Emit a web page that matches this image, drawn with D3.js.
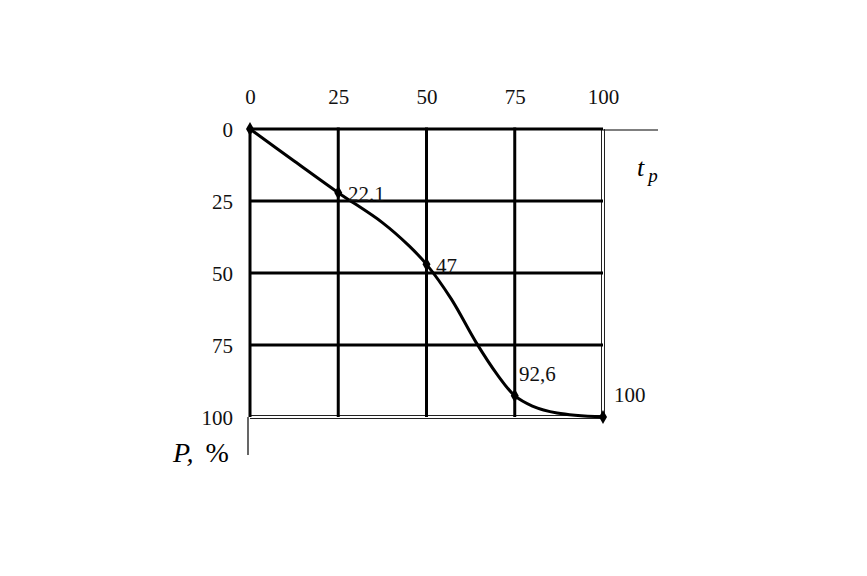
<!DOCTYPE html>
<html><head><meta charset="utf-8">
<script src="https://cdn.jsdelivr.net/npm/d3@7"></script>
<style>body{margin:0;background:#fff}svg{font-family:"Liberation Serif",serif}</style>
</head><body>
<svg id="c" width="867" height="576"></svg>
<script>
const xTicks = [0, 25, 50, 75, 100];
const yTicks = [0, 25, 50, 75, 100];
const markT = [0, 25, 50, 75, 100];
const markP = [0, 22.1, 47, 92.6, 100];
const markLabels = ["", "22.1", "47", "92,6", "100"];
const curveT = [0, 12.5, 25, 37.5, 45, 50, 57, 64, 70, 75, 80, 87, 100];
const curveP = [0, 11.1, 22.1, 32.5, 40.5, 47, 59, 74, 85.2, 92.6, 96.2, 98.6, 100];

const svg = d3.select("#c");
const x = d3.scaleLinear().domain([0, 100]).range([250, 603]);
const y = d3.scaleLinear().domain([0, 100]).range([129, 417]);
const FS = 21;

// extension lines
svg.append("line").attr("x1", x(100)).attr("x2", 658).attr("y1", 130).attr("y2", 130).attr("stroke", "#000").attr("stroke-width", 1.2);
svg.append("line").attr("x1", 248).attr("x2", 248).attr("y1", y(100)).attr("y2", 455).attr("stroke", "#000").attr("stroke-width", 1.2);

// double outer lines (right & bottom)
[-1.5, 1.5].forEach(o => {
  svg.append("line").attr("x1", x(100) + o).attr("x2", x(100) + o).attr("y1", y(0)).attr("y2", y(100) + 1.5).attr("stroke", "#222").attr("stroke-width", 1);
  svg.append("line").attr("x1", x(0)).attr("x2", x(100) + 1.5).attr("y1", y(100) + o).attr("y2", y(100) + o).attr("stroke", "#222").attr("stroke-width", 1);
});

// grid
const g = svg.append("g");
xTicks.filter(d => d < 100).forEach(d => {
  g.append("line").attr("x1", x(d)).attr("x2", x(d)).attr("y1", y(0) - 1.5).attr("y2", y(100)).attr("stroke", "#000").attr("stroke-width", 3);
});
yTicks.filter(d => d < 100).forEach(d => {
  g.append("line").attr("x1", x(0)).attr("x2", x(100)).attr("y1", y(d)).attr("y2", y(d)).attr("stroke", "#000").attr("stroke-width", 3);
});

// axes labels via d3 axes
const xAxis = svg.append("g").attr("transform", `translate(0,${y(0) - 25})`)
  .call(d3.axisTop(x).tickValues(xTicks).tickSize(0).tickPadding(0));
const yAxis = svg.append("g").attr("transform", `translate(${x(0) - 17},0)`)
  .call(d3.axisLeft(y).tickValues(yTicks).tickSize(0).tickPadding(0));
[xAxis, yAxis].forEach(a => {
  a.select(".domain").remove();
  a.selectAll("text").attr("font-family", "Liberation Serif").attr("font-size", FS).attr("fill", "#111");
});
yAxis.selectAll("text").attr("dy", "0.35em");

// curve
const line = d3.line().x(d => x(d[0])).y(d => y(d[1])).curve(d3.curveCatmullRom.alpha(0.5));
svg.append("path").datum(curveT.map((t, i) => [t, curveP[i]]))
  .attr("d", line).attr("fill", "none").attr("stroke", "#000").attr("stroke-width", 3);

// markers
const sym = d3.symbol().type(d3.symbolDiamond).size(55);
markT.forEach((t, i) => {
  svg.append("path").attr("d", sym).attr("transform", `translate(${x(t)},${y(markP[i])})`).attr("fill", "#000");
});

// point labels
const lblPos = [null, [348, 201], [436, 273], [519, 381], [614, 402]];
markLabels.forEach((l, i) => {
  if (!l) return;
  svg.append("text").attr("x", lblPos[i][0]).attr("y", lblPos[i][1]).attr("font-size", FS).attr("fill", "#111").text(l);
});

// axis titles
const tp = svg.append("text").attr("x", 637).attr("y", 176).attr("font-size", 26).attr("font-style", "italic");
tp.append("tspan").text("t");
tp.append("tspan").attr("dx", 4).attr("dy", 6).attr("font-size", 19).text("p");
svg.append("text").attr("x", 173).attr("y", 462).attr("font-size", 28).attr("font-style", "italic").text("P,")
  .append("tspan").attr("font-style", "normal").attr("dx", 12).text("%");
</script>
</body></html>
